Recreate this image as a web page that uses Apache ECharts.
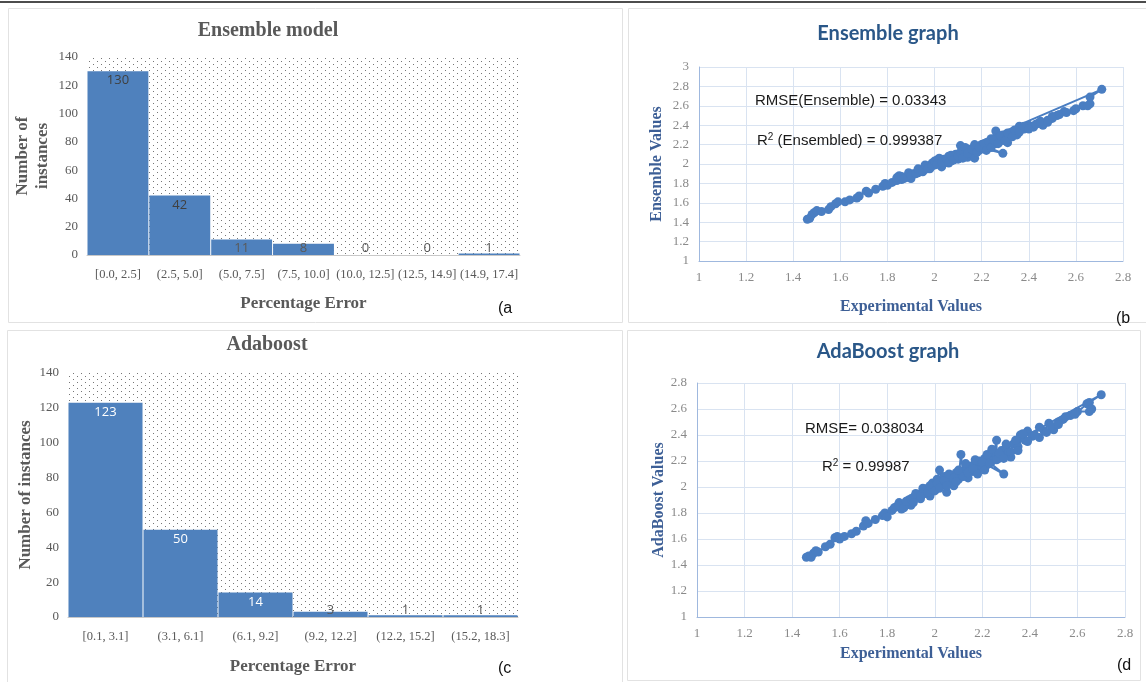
<!DOCTYPE html>
<html>
<head>
<meta charset="utf-8">
<script src="https://cdn.jsdelivr.net/npm/echarts@6/dist/echarts.min.js"></script>
<style>
html,body{margin:0;padding:0;background:#fff;}
#c{width:1146px;height:682px;}
</style>
</head>
<body>
<div id="c"></div>
<script>
// ---------- data ----------
const ensHistCategories = ['[0.0, 2.5]','(2.5, 5.0]','(5.0, 7.5]','(7.5, 10.0]','(10.0, 12.5]','(12.5, 14.9]','(14.9, 17.4]'];
const ensHistCounts = [130, 42, 11, 8, 0, 0, 1];
const adaHistCategories = ['[0.1, 3.1]','(3.1, 6.1]','(6.1, 9.2]','(9.2, 12.2]','(12.2, 15.2]','(15.2, 18.3]'];
const adaHistCounts = [123, 50, 14, 3, 1, 1];
const histYTicks = [0, 20, 40, 60, 80, 100, 120, 140];

const ensemblePoints = [
 [1.46,1.43],[1.47,1.44],[1.48,1.48],[1.49,1.50],[1.50,1.52],[1.52,1.51],[1.55,1.53],[1.56,1.56],
 [1.58,1.59],[1.59,1.61],[1.62,1.61],[1.64,1.63],[1.67,1.65],[1.68,1.67],[1.71,1.72],[1.72,1.70],
 [1.75,1.74],[1.78,1.77],[1.79,1.80],[1.80,1.78],[1.82,1.81],[1.84,1.83],[1.85,1.88],[1.86,1.84],
 [1.88,1.86],[1.89,1.89],[1.90,1.85],[1.91,1.90],[1.93,1.91],[1.94,1.94],[1.95,1.92],[1.96,1.96],
 [1.97,1.98],[1.98,1.95],[1.99,2.01],[2.00,1.99],[2.01,2.04],[2.02,2.00],[2.03,1.97],[2.04,2.05],
 [2.05,2.02],[2.06,2.08],[2.07,2.03],[2.08,2.06],[2.09,2.10],[2.10,2.05],[2.11,2.19],[2.12,2.09],
 [2.13,2.13],[2.14,2.07],[2.15,2.15],[2.16,2.11],[2.17,2.06],[2.18,2.17],[2.19,2.14],[2.20,2.20],
 [2.29,2.11],[2.21,2.16],[2.22,2.22],[2.23,2.18],[2.24,2.26],[2.26,2.34],[2.26,2.21],[2.27,2.27],
 [2.28,2.24],[2.29,2.30],[2.30,2.26],[2.31,2.22],[2.32,2.31],[2.34,2.33],[2.35,2.30],[2.36,2.39],
 [2.38,2.36],[2.40,2.40],[2.42,2.38],[2.44,2.42],[2.46,2.40],[2.48,2.45],[2.50,2.47],[2.52,2.50],
 [2.55,2.54],[2.59,2.55],[2.63,2.60],[2.66,2.62],[2.66,2.69],[2.71,2.77],
 [1.84,1.86],[1.86,1.87],[1.87,1.85],[1.89,1.91],[1.90,1.88],[1.92,1.90],[1.93,1.95],[1.95,1.93],
 [1.96,1.99],[1.97,1.95],[1.99,1.98],[2.00,2.03],[2.01,2.00],[2.02,2.06],[2.03,2.02],[2.05,2.05],
 [2.06,2.01],[2.07,2.09],[2.08,2.04],[2.10,2.08],[2.11,2.12],[2.12,2.06],[2.13,2.17],[2.14,2.11],
 [2.16,2.15],[2.17,2.20],[2.18,2.12],[2.19,2.17],[2.21,2.21],[2.22,2.14],[2.23,2.23],[2.24,2.17],
 [2.25,2.25],[2.27,2.21],[2.28,2.29],[2.30,2.24],[2.31,2.32],[2.33,2.28],[2.34,2.35],[2.36,2.33],
 [2.38,2.39],[2.40,2.36],[2.43,2.41],[2.45,2.44],[2.48,2.43],[2.50,2.49],[2.53,2.51],[2.56,2.53],
 [2.60,2.57],[2.65,2.60]
];
const adaboostPoints = [
 [1.46,1.46],[1.47,1.47],[1.48,1.46],[1.49,1.49],[1.50,1.51],[1.51,1.50],[1.54,1.54],[1.56,1.56],
 [1.58,1.61],[1.59,1.62],[1.60,1.60],[1.62,1.62],[1.65,1.64],[1.67,1.66],[1.70,1.70],[1.71,1.74],
 [1.72,1.72],[1.75,1.75],[1.78,1.78],[1.79,1.80],[1.80,1.77],[1.82,1.82],[1.84,1.85],[1.85,1.88],
 [1.86,1.83],[1.88,1.87],[1.89,1.90],[1.90,1.86],[1.91,1.92],[1.93,1.94],[1.94,1.91],[1.95,1.97],
 [1.96,1.95],[1.97,1.99],[1.98,1.93],[1.99,2.03],[2.00,2.00],[2.01,2.06],[2.02,2.13],[2.03,2.02],
 [2.04,2.08],[2.05,1.96],[2.06,2.04],[2.07,2.09],[2.08,2.01],[2.09,2.11],[2.10,2.06],[2.11,2.25],
 [2.12,2.10],[2.13,2.14],[2.14,2.07],[2.15,2.16],[2.16,2.12],[2.17,2.18],[2.18,2.13],[2.19,2.20],
 [2.20,2.15],[2.21,2.22],[2.29,2.10],[2.22,2.17],[2.23,2.24],[2.24,2.20],[2.26,2.36],[2.26,2.25],
 [2.27,2.22],[2.28,2.28],[2.29,2.24],[2.30,2.30],[2.31,2.27],[2.32,2.23],[2.33,2.33],[2.35,2.31],
 [2.36,2.40],[2.38,2.36],[2.39,2.43],[2.41,2.39],[2.44,2.38],[2.46,2.43],[2.48,2.49],[2.50,2.44],
 [2.52,2.50],[2.54,2.52],[2.57,2.55],[2.60,2.58],[2.65,2.58],[2.65,2.65],[2.70,2.71],
 [1.83,1.84],[1.85,1.86],[1.87,1.84],[1.88,1.89],[1.90,1.91],[1.91,1.88],[1.92,1.95],[1.94,1.93],
 [1.95,1.99],[1.97,1.96],[1.98,2.01],[2.00,1.97],[2.01,2.03],[2.02,1.99],[2.04,2.05],[2.05,2.01],
 [2.06,2.10],[2.08,2.07],[2.09,2.04],[2.10,2.13],[2.12,2.08],[2.13,2.18],[2.14,2.11],[2.16,2.14],
 [2.17,2.21],[2.18,2.10],[2.20,2.19],[2.21,2.13],[2.22,2.25],[2.23,2.18],[2.24,2.29],[2.26,2.21],
 [2.27,2.26],[2.29,2.22],[2.30,2.33],[2.32,2.27],[2.34,2.36],[2.35,2.28],[2.37,2.41],[2.39,2.35],
 [2.42,2.40],[2.44,2.46],[2.47,2.42],[2.49,2.47],[2.52,2.48],[2.55,2.54],[2.59,2.56],[2.64,2.64],
 [2.66,2.60]
];

// ---------- styles ----------
const barBlue = '#4f81bd';
const ptBlue = '#4a7ec2';
const grayText = '#595959';
const serif = '"Liberation Serif", "DejaVu Serif", serif';
const sans = '"Liberation Sans", Arial, sans-serif';
const titleSans = 'Lato, "Open Sans", sans-serif';
const axisBlue = '#3d5f96';

// dotted background pattern
const pc = document.createElement('canvas');
pc.width = 8; pc.height = 6;
const pctx = pc.getContext('2d');
pctx.fillStyle = 'rgba(60,60,60,0.7)';
pctx.fillRect(1, 1, 1, 1);
pctx.fillRect(5, 4, 1, 1);
const dotPattern = { image: pc, repeat: 'repeat' };

function barData(counts, bigColor) {
  return counts.map(v => ({
    value: v,
    label: v >= 12
      ? { position: 'insideTop', distance: 3, color: bigColor }
      : { position: 'insideBottom', distance: 0, color: '#595959' }
  }));
}

function histX(gi, cats, nameGap) {
  return {
    type: 'category', gridIndex: gi, data: cats,
    name: 'Percentage Error', nameLocation: 'middle', nameGap: nameGap,
    nameTextStyle: { fontFamily: serif, fontWeight: 'bold', fontSize: 17, color: grayText },
    axisLine: { show: true, lineStyle: { color: '#c8c8c8', width: 1 } },
    axisTick: { show: false },
    axisLabel: { fontFamily: serif, fontSize: 12.5, color: grayText, margin: 13, interval: 0 },
    splitLine: { show: false }
  };
}
function histY(gi, name, nameGap) {
  return {
    type: 'value', gridIndex: gi, min: histYTicks[0], max: histYTicks[histYTicks.length - 1], interval: 20,
    name: name, nameLocation: 'middle', nameGap: nameGap, nameRotate: 90,
    nameTextStyle: { fontFamily: serif, fontWeight: 'bold', fontSize: 17, color: grayText, lineHeight: 20 },
    axisLine: { show: false }, axisTick: { show: false },
    axisLabel: { fontFamily: serif, fontSize: 13, color: grayText, margin: 9 },
    splitLine: { show: false }
  };
}
function scX(gi, nameGap) {
  return {
    type: 'value', gridIndex: gi, min: 1, max: 2.8, interval: 0.2,
    name: 'Experimental Values', nameLocation: 'middle', nameGap: nameGap,
    nameTextStyle: { fontFamily: serif, fontWeight: 'bold', fontSize: 16, color: axisBlue },
    axisLine: { show: true, lineStyle: { color: '#9fb8de', width: 1 } },
    axisTick: { show: false },
    axisLabel: { fontFamily: serif, fontSize: 13, color: '#8a8a8a', margin: 10 },
    splitLine: { show: true, lineStyle: { color: '#d9e3f1', width: 1 } }
  };
}
function scY(gi, name, max, nameGap) {
  return {
    type: 'value', gridIndex: gi, min: 1, max: max, interval: 0.2,
    name: name, nameLocation: 'middle', nameGap: nameGap, nameRotate: 90,
    nameTextStyle: { fontFamily: serif, fontWeight: 'bold', fontSize: 16, color: axisBlue },
    axisLine: { show: true, lineStyle: { color: '#9fb8de', width: 1 } },
    axisTick: { show: false },
    axisLabel: { fontFamily: serif, fontSize: 13, color: '#8a8a8a', margin: 10 },
    splitLine: { show: true, lineStyle: { color: '#d9e3f1', width: 1 } }
  };
}
const supRich = {
  a: { fontFamily: sans, fontSize: 15, fill: '#1a1a1a', lineHeight: 18, verticalAlign: 'middle' },
  s: { fontFamily: sans, fontSize: 10, fill: '#1a1a1a', lineHeight: 11, verticalAlign: 'top' }
};

const chart = echarts.init(document.getElementById('c'), null, { renderer: 'canvas' });
const option = {
  backgroundColor: '#ffffff',
  animation: false,
  title: [
    { text: 'Ensemble model', left: 268, top: 21, textAlign: 'center', padding: 0,
      textStyle: { fontFamily: serif, fontWeight: 'bold', fontSize: 20, color: grayText } },
    { text: 'Adaboost', left: 267, top: 335, textAlign: 'center', padding: 0,
      textStyle: { fontFamily: serif, fontWeight: 'bold', fontSize: 20, color: grayText } },
    { text: 'Ensemble graph', left: 888, top: 24, textAlign: 'center', padding: 0,
      textStyle: { fontFamily: titleSans, fontWeight: 'bold', fontSize: 20, color: '#2a5788' } },
    { text: 'AdaBoost graph', left: 888, top: 342, textAlign: 'center', padding: 0,
      textStyle: { fontFamily: titleSans, fontWeight: 'bold', fontSize: 20, color: '#2a5788' } }
  ],
  grid: [
    { left: 87, top: 57, width: 433, height: 198, show: true, backgroundColor: dotPattern, borderWidth: 0 },
    { left: 68, top: 373, width: 450, height: 244, show: true, backgroundColor: dotPattern, borderWidth: 0 },
    { left: 699, top: 67, width: 424, height: 194 },
    { left: 697, top: 383, width: 428, height: 234 }
  ],
  xAxis: [
    histX(0, ensHistCategories, 40),
    histX(1, adaHistCategories, 41),
    scX(2, 38),
    scX(3, 29)
  ],
  yAxis: [
    histY(0, 'Number of\ninstances', 34),
    histY(1, 'Number of instances', 32),
    scY(2, 'Ensemble Values', 3, 34),
    scY(3, 'AdaBoost Values', 2.8, 30)
  ],
  series: [
    { type: 'bar', xAxisIndex: 0, yAxisIndex: 0, data: barData(ensHistCounts, '#404040'), barWidth: '98.4%',
      itemStyle: { color: barBlue },
      label: { show: true, fontFamily: '"Open Sans", Lato, sans-serif', fontSize: 13 } },
    { type: 'bar', xAxisIndex: 1, yAxisIndex: 1, data: barData(adaHistCounts, '#ffffff'), barWidth: '98.7%',
      itemStyle: { color: barBlue },
      label: { show: true, fontFamily: '"Open Sans", Lato, sans-serif', fontSize: 13 } },
    { type: 'line', xAxisIndex: 2, yAxisIndex: 2, data: ensemblePoints, symbol: 'circle', symbolSize: 9,
      showSymbol: true, showAllSymbol: true,
      lineStyle: { color: ptBlue, width: 2 }, itemStyle: { color: ptBlue, borderWidth: 0 } },
    { type: 'line', xAxisIndex: 3, yAxisIndex: 3, data: adaboostPoints, symbol: 'circle', symbolSize: 9,
      showSymbol: true, showAllSymbol: true,
      lineStyle: { color: ptBlue, width: 2 }, itemStyle: { color: ptBlue, borderWidth: 0 } }
  ],
  graphic: [
    { type: 'line', shape: { x1: 0, y1: 2, x2: 1146, y2: 2 }, style: { stroke: '#111', lineWidth: 1.5 }, silent: true },
    { type: 'rect', shape: { x: 8.5, y: 8.5, width: 614, height: 314 }, style: { fill: null, stroke: '#e2e2e2', lineWidth: 1 }, silent: true },
    { type: 'rect', shape: { x: 628.5, y: 8.5, width: 520, height: 314 }, style: { fill: null, stroke: '#e2e2e2', lineWidth: 1 }, silent: true },
    { type: 'rect', shape: { x: 7.5, y: 330.5, width: 615, height: 355 }, style: { fill: null, stroke: '#e2e2e2', lineWidth: 1 }, silent: true },
    { type: 'rect', shape: { x: 627.5, y: 330.5, width: 513, height: 350 }, style: { fill: null, stroke: '#e2e2e2', lineWidth: 1 }, silent: true },
    { type: 'text', z: 100, left: 755, top: 93, style: { text: 'RMSE(Ensemble) = 0.03343', fontFamily: sans, fontSize: 15, fill: '#1a1a1a' } },
    { type: 'text', z: 100, left: 757, top: 132, style: { text: '{a|R}{s|2}{a| (Ensembled) = 0.999387}', rich: supRich } },
    { type: 'text', z: 100, left: 805, top: 421, style: { text: 'RMSE= 0.038034', fontFamily: sans, fontSize: 15, fill: '#1a1a1a' } },
    { type: 'text', z: 100, left: 822, top: 458, style: { text: '{a|R}{s|2}{a| = 0.99987}', rich: supRich } },
    { type: 'text', z: 100, left: 498, top: 301, style: { text: '(a', fontFamily: sans, fontSize: 16, fill: '#111' } },
    { type: 'text', z: 100, left: 1116, top: 311, style: { text: '(b', fontFamily: sans, fontSize: 16, fill: '#111' } },
    { type: 'text', z: 100, left: 498, top: 661, style: { text: '(c', fontFamily: sans, fontSize: 16, fill: '#111' } },
    { type: 'text', z: 100, left: 1117, top: 658, style: { text: '(d', fontFamily: sans, fontSize: 16, fill: '#111' } }
  ]
};
chart.setOption(option);
</script>
</body>
</html>
